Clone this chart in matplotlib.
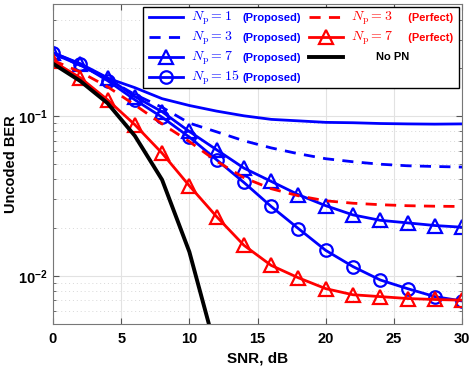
import numpy as np
import matplotlib
matplotlib.use("Agg")
import matplotlib.pyplot as plt

plt.rcParams['font.family'] = ['Liberation Sans', 'DejaVu Sans']
plt.rcParams['font.weight'] = 'bold'
plt.rcParams['mathtext.fontset'] = 'cm'

snr = [0, 2, 4, 6, 8, 10, 12, 14, 16, 18, 20, 22, 24, 26, 28, 30]

ber_np1 = [0.245, 0.207, 0.172, 0.150, 0.128, 0.116, 0.107, 0.100, 0.095, 0.093,
           0.091, 0.0905, 0.0895, 0.089, 0.0887, 0.089]
ber_np3 = [0.245, 0.207, 0.170, 0.136, 0.113, 0.090, 0.0794, 0.0698, 0.063, 0.0579,
           0.0539, 0.0516, 0.0498, 0.0487, 0.0482, 0.0478]
ber_np7 = [0.248, 0.212, 0.173, 0.132, 0.106, 0.0798, 0.0613, 0.0471, 0.0389, 0.0321,
           0.0274, 0.024, 0.0222, 0.0214, 0.0206, 0.0201]
ber_np15 = [0.248, 0.210, 0.166, 0.126, 0.098, 0.0736, 0.0531, 0.0383, 0.0271, 0.0197,
            0.0144, 0.0114, 0.0094, 0.0083, 0.0074, 0.00695]
ber_np3_perf = [0.222, 0.188, 0.152, 0.117, 0.089, 0.069, 0.052, 0.041, 0.035, 0.0316,
                0.0294, 0.0284, 0.0278, 0.0274, 0.0272, 0.0271]
ber_np7_perf = [0.219, 0.173, 0.126, 0.088, 0.0584, 0.0365, 0.0234, 0.0155, 0.0116, 0.0097,
                0.0083, 0.0076, 0.0074, 0.0072, 0.0071, 0.00703]
snr_nopn = [0, 2, 4, 6, 8, 10, 12]
ber_nopn = [0.212, 0.165, 0.120, 0.075, 0.0398, 0.0141, 0.0033]

fig = plt.figure(figsize=(4.73, 3.68), dpi=100)
ax = fig.add_axes([0.112, 0.12, 0.865, 0.869])

lw = 2.0
mk = dict(mfc='none', mew=1.6)
l1, = ax.plot(snr, ber_np1, color='blue', lw=lw)
l2, = ax.plot(snr, ber_np3, color='blue', lw=lw, dashes=(4, 3))
l3, = ax.plot(snr, ber_np7, color='blue', lw=lw, marker='^', ms=10, **mk)
l4, = ax.plot(snr, ber_np15, color='blue', lw=lw, marker='o', ms=9, **mk)
l5, = ax.plot(snr, ber_np3_perf, color='red', lw=lw, dashes=(4, 3))
l6, = ax.plot(snr, ber_np7_perf, color='red', lw=lw, marker='^', ms=10, **mk)
l7, = ax.plot(snr_nopn, ber_nopn, color='black', lw=2.8)

ax.set_yscale('log')
ax.set_xlim(0, 30)
ax.set_ylim(0.005, 0.5)
ax.set_xticks([0, 5, 10, 15, 20, 25, 30])
ax.set_yticks([0.01, 0.1])
ax.tick_params(which='both', direction='in', top=True, right=True, labelsize=10.5,
               color='#555555')
ax.tick_params(axis='x', pad=6)
ax.tick_params(which='major', length=4)
ax.tick_params(which='minor', length=2.5)
ax.grid(True, which='major', color='#e2e2e2', lw=0.8)
ax.grid(True, which='minor', axis='y', color='#d8d8d8', lw=0.7, ls=(0, (1, 3)))
for s in ax.spines.values():
    s.set_color('#777777')
    s.set_linewidth(0.8)

ax.set_xlabel('SNR, dB', fontsize=11, fontweight='bold', labelpad=4)
ax.set_ylabel('Uncoded BER', fontsize=10.5, fontweight='bold', labelpad=0)

# legend: small bold suffix as label, bigger math name put in the gap before it
handles = [l1, l2, l3, l4, l5, l6, l7]
labels = ['(Proposed)'] * 4 + ['  (Perfect)', '  (Perfect)', '']
names = [r'$N_\mathrm{p}=1$', r'$N_\mathrm{p}=3$', r'$N_\mathrm{p}=7$', r'$N_\mathrm{p}=15$',
         r'$N_\mathrm{p}=3$', r'$N_\mathrm{p}=7$']

leg = ax.legend(handles, labels, loc='upper right', ncol=2, fontsize=8,
                handlelength=3.1, frameon=True, fancybox=False, edgecolor='black',
                framealpha=1, borderpad=0.5, labelspacing=0.9, columnspacing=0.72,
                handletextpad=5.3, borderaxespad=0.3)
leg.get_frame().set_linewidth(1.0)
texts = leg.get_texts()
for txt, h in zip(texts, handles):
    txt.set_color(h.get_color())
for txt, h, name in zip(texts, handles, names):
    ax.annotate(name, xy=(0, 0.5), xycoords=txt, xytext=(-51, 0),
                textcoords='offset pixels', va='center', ha='left',
                fontsize=10, color=h.get_color(), zorder=10)
ax.annotate('No PN', xy=(1, 0.5), xycoords=leg.legend_handles[6], xytext=(33, 0),
            textcoords='offset pixels', va='center', ha='left',
            fontsize=8, fontweight='bold', color='black', zorder=10)

fig.savefig('out.png', dpi=100)
